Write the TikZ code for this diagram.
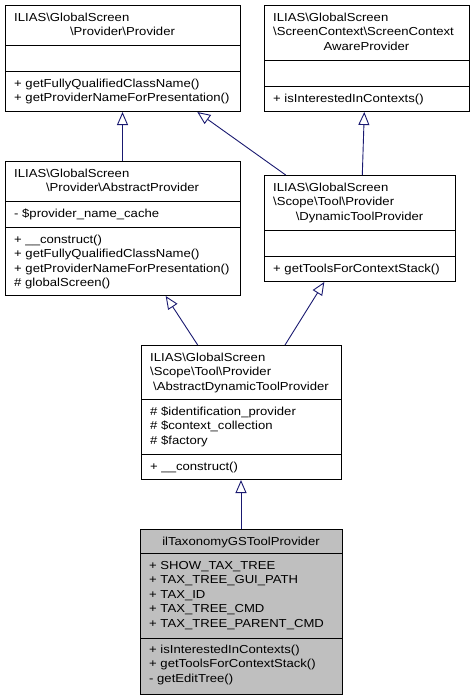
\documentclass[tikz,border=0pt]{standalone}
\usepackage{fontspec}
\setmainfont[FakeStretch=1.13]{Liberation Sans}
\usetikzlibrary{arrows.meta,calc}
\definecolor{edgeblue}{HTML}{191970}
\definecolor{hlgray}{HTML}{BFBFBF}
\tikzset{
  umlbox/.style={draw=black, line width=1pt, inner sep=0pt, anchor=north west, fill=white},
  hlbox/.style={umlbox, fill=hlgray},
  divline/.style={draw=black, line width=1pt},
  lt/.style={inner sep=0pt, anchor=base west, font=\fontsize{11.6}{14.5}\selectfont},
  ct/.style={inner sep=0pt, anchor=base, font=\fontsize{11.6}{14.5}\selectfont},
  inh/.style={draw=edgeblue, line width=0.9pt, -{Triangle[open, length=13pt, width=11pt, line width=0.9pt]}}
}
\begin{document}
\begin{tikzpicture}[x=1pt, y=-1pt]
\useasboundingbox (0,0) rectangle (474,699);

% Box 1: Provider
\node[umlbox, minimum width=235pt, minimum height=106pt] (p1) at (5,5) {};
\draw[divline] (5,45) -- (240,45);
\draw[divline] (5,71) -- (240,71);
\node[lt] (p1t1) at (14,21) {ILIAS\textbackslash GlobalScreen};
\node[ct] (p1t2) at (122.5,35.5) {\textbackslash Provider\textbackslash Provider};
\node[lt] (p1m1) at (14,87) {+ getFullyQualifiedClassName()};
\node[lt] (p1m2) at (14,101.5) {+ getProviderNameForPresentation()};

% Box 2: ScreenContextAwareProvider
\node[umlbox, minimum width=205pt, minimum height=106pt] (p2) at (264,5) {};
\draw[divline] (264,60) -- (469,60);
\draw[divline] (264,86) -- (469,86);
\node[lt] (p2t1) at (273,21) {ILIAS\textbackslash GlobalScreen};
\node[lt] (p2t2) at (273,35.5) {\textbackslash ScreenContext\textbackslash ScreenContext};
\node[ct] (p2t3) at (366.5,50) {AwareProvider};
\node[lt] (p2m1) at (273,102) {+ isInterestedInContexts()};

% Box 3: AbstractProvider
\node[umlbox, minimum width=235pt, minimum height=134pt] (ap) at (5,161) {};
\draw[divline] (5,201) -- (240,201);
\draw[divline] (5,227) -- (240,227);
\node[lt] (apt1) at (14,177) {ILIAS\textbackslash GlobalScreen};
\node[ct] (apt2) at (122.5,191.5) {\textbackslash Provider\textbackslash AbstractProvider};
\node[lt] (apa1) at (14,217) {- \$provider\_name\_cache};
\node[lt] (apm1) at (14,243) {+ \_\_construct()};
\node[lt] (apm2) at (14,257.5) {+ getFullyQualifiedClassName()};
\node[lt] (apm3) at (14,272) {+ getProviderNameForPresentation()};
\node[lt] (apm4) at (14,286.5) {\# globalScreen()};

% Box 4: DynamicToolProvider
\node[umlbox, minimum width=191pt, minimum height=106pt] (dtp) at (264,175) {};
\draw[divline] (264,230) -- (455,230);
\draw[divline] (264,256) -- (455,256);
\node[lt] (dtpt1) at (273,191) {ILIAS\textbackslash GlobalScreen};
\node[lt] (dtpt2) at (273,205.5) {\textbackslash Scope\textbackslash Tool\textbackslash Provider};
\node[ct] (dtpt3) at (359.5,220) {\textbackslash DynamicToolProvider};
\node[lt] (dtpm1) at (273,272) {+ getToolsForContextStack()};

% Box 5: AbstractDynamicToolProvider
\node[umlbox, minimum width=200pt, minimum height=134pt] (adtp) at (141,345) {};
\draw[divline] (141,399) -- (341,399);
\draw[divline] (141,454) -- (341,454);
\node[lt] (adtpt1) at (150,361) {ILIAS\textbackslash GlobalScreen};
\node[lt] (adtpt2) at (150,375.5) {\textbackslash Scope\textbackslash Tool\textbackslash Provider};
\node[ct] (adtpt3) at (241,390) {\textbackslash AbstractDynamicToolProvider};
\node[lt] (adtpa1) at (150,415) {\# \$identification\_provider};
\node[lt] (adtpa2) at (150,429.5) {\# \$context\_collection};
\node[lt] (adtpa3) at (150,444) {\# \$factory};
\node[lt] (adtpm1) at (150,470) {+ \_\_construct()};

% Box 6: ilTaxonomyGSToolProvider
\node[hlbox, minimum width=202pt, minimum height=165pt] (tgp) at (140,529) {};
\draw[divline] (140,553) -- (342,553);
\draw[divline] (140,638) -- (342,638);
\node[ct] (tgpt1) at (241,545) {ilTaxonomyGSToolProvider};
\node[lt] (tgpa1) at (149,569) {+ SHOW\_TAX\_TREE};
\node[lt] (tgpa2) at (149,583.5) {+ TAX\_TREE\_GUI\_PATH};
\node[lt] (tgpa3) at (149,598) {+ TAX\_ID};
\node[lt] (tgpa4) at (149,612.5) {+ TAX\_TREE\_CMD};
\node[lt] (tgpa5) at (149,627) {+ TAX\_TREE\_PARENT\_CMD};
\node[lt] (tgpm1) at (149,653) {+ isInterestedInContexts()};
\node[lt] (tgpm2) at (149,667.5) {+ getToolsForContextStack()};
\node[lt] (tgpm3) at (149,682) {- getEditTree()};

% Inheritance connectors
\draw[inh] ($(ap.north west)+(117.5,0)$) -- ($(p1.south west)+(117.5,0)$);
\draw[inh] ($(dtp.north west)+(21.7,0)$) -- ($(p1.south west)+(192.3,0)$);
\draw[inh] ($(dtp.north west)+(98.3,0)$) -- ($(p2.south west)+(100.3,0)$);
\draw[inh] ($(adtp.north west)+(56.7,0)$) -- ($(ap.south west)+(160.7,0)$);
\draw[inh] ($(adtp.north west)+(144,0)$) -- ($(dtp.south west)+(60.3,0)$);
\draw[inh] ($(tgp.north west)+(101,0)$) -- ($(adtp.south west)+(100,0)$);
\end{tikzpicture}
\end{document}
